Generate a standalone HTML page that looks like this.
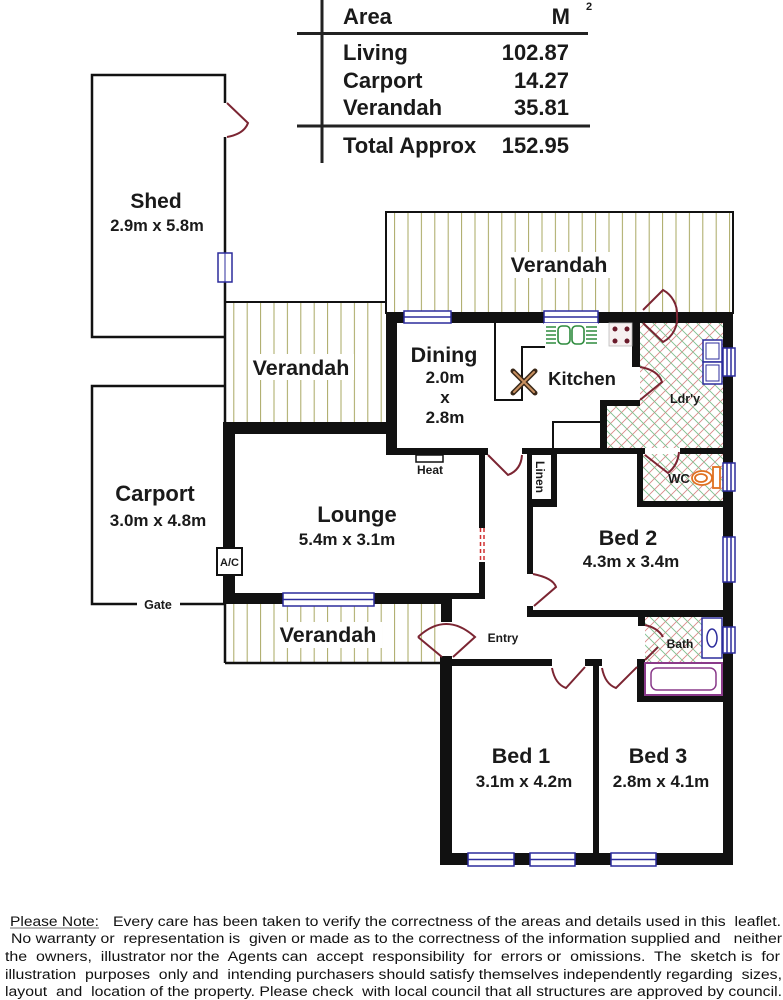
<!DOCTYPE html>
<html><head><meta charset="utf-8"><style>
html,body{margin:0;padding:0;background:#fff;}
svg{display:block;}
.t{font-family:"Liberation Sans",Arial,sans-serif;font-weight:bold;fill:#1a1a1a;}
.n{font-family:"Liberation Sans",Arial,sans-serif;fill:#111;white-space:pre;}
</style></head><body>
<svg width="783" height="1000" viewBox="0 0 783 1000" xmlns="http://www.w3.org/2000/svg">
<defs>
<pattern id="vs" width="13.4" height="20" patternUnits="userSpaceOnUse"><line x1="6" y1="0" x2="6" y2="20" stroke="#a9a862" stroke-width="1"/></pattern>
<pattern id="xh" width="11" height="11" patternUnits="userSpaceOnUse">
<path d="M0,11 L11,0 M-2,2 L2,-2 M9,13 L13,9" stroke="#d98a8a" stroke-width="0.9"/>
<path d="M0,0 L11,11 M-2,9 L2,13 M9,-2 L13,2" stroke="#7fbf8f" stroke-width="0.9"/>
</pattern>
</defs>

<!-- area table -->
<rect x="320.5" y="0" width="3" height="163" fill="#222"/>
<rect x="297" y="32" width="291" height="3" fill="#222"/>
<rect x="297" y="124.5" width="293" height="3" fill="#222"/>
<text class="t" x="343" y="24" font-size="22">Area</text>
<text class="t" x="570" y="24" font-size="22" text-anchor="end">M</text>
<text class="t" x="586" y="10" font-size="11">2</text>
<text class="t" x="343" y="60" font-size="22">Living</text>
<text class="t" x="569" y="60" font-size="22" text-anchor="end">102.87</text>
<text class="t" x="343" y="88" font-size="22">Carport</text>
<text class="t" x="569" y="88" font-size="22" text-anchor="end">14.27</text>
<text class="t" x="343" y="115" font-size="22">Verandah</text>
<text class="t" x="569" y="115" font-size="22" text-anchor="end">35.81</text>
<text class="t" x="343" y="153" font-size="22">Total Approx</text>
<text class="t" x="569" y="153" font-size="22" text-anchor="end">152.95</text>

<!-- verandahs -->
<rect x="386" y="212" width="347" height="101" fill="url(#vs)" stroke="#111" stroke-width="2"/>
<rect x="225" y="302" width="162" height="121" fill="url(#vs)"/>
<rect x="225" y="604" width="216" height="59" fill="url(#vs)"/>
<line x1="225" y1="302" x2="387" y2="302" stroke="#111" stroke-width="2"/>
<line x1="225" y1="663" x2="442" y2="663" stroke="#111" stroke-width="2.5"/>

<!-- shed / carport outlines -->
<path d="M225,103 V75 H92 V337 H225 M225,137 V663" fill="none" stroke="#111" stroke-width="2.5"/>
<path d="M225,386 H92 V604 H137 M180,604 H225" fill="none" stroke="#111" stroke-width="2.5"/>
<rect x="218" y="253" width="14" height="29" fill="#fff" stroke="#2c2c9c" stroke-width="1.5"/>
<line x1="225" y1="253" x2="225" y2="282" stroke="#2c2c9c" stroke-width="1"/>
<path d="M227,103 L248,123 Q244,134 227,137" fill="none" stroke="#7b2532" stroke-width="2"/>

<!-- hatched wet areas -->
<polygon points="640,323 723,323 723,448 607,448 607,406 640,406" fill="url(#xh)"/>
<rect x="643" y="454" width="80" height="47" fill="url(#xh)"/>
<rect x="645" y="617" width="57" height="46" fill="url(#xh)"/>

<!-- walls -->
<g fill="#111">
<rect x="386" y="312" width="347" height="11"/>
<rect x="386" y="312" width="11" height="143"/>
<rect x="223" y="422" width="174" height="12"/>
<rect x="223" y="422" width="12" height="182"/>
<rect x="223" y="593" width="229" height="11"/>
<rect x="452" y="593" width="33" height="6"/>
<rect x="441" y="593" width="11" height="29"/>
<rect x="440" y="656" width="12" height="209"/>
<rect x="440" y="853" width="293" height="12"/>
<rect x="723" y="312" width="10" height="553"/>
<rect x="391" y="448" width="97" height="7"/>
<rect x="479" y="448" width="6" height="151"/>
<rect x="522" y="448" width="123" height="6"/>
<rect x="680" y="448" width="43" height="6"/>
<rect x="527" y="448" width="30" height="59"/>
<rect x="527" y="448" width="6" height="126"/>
<rect x="527" y="606" width="6" height="11"/>
<rect x="527" y="610" width="196" height="7"/>
<rect x="637" y="448" width="6" height="59"/>
<rect x="637" y="501" width="86" height="6"/>
<rect x="638" y="617" width="7" height="9"/>
<rect x="637" y="659" width="8" height="43"/>
<rect x="637" y="695" width="86" height="7"/>
<rect x="440" y="659" width="112" height="7"/>
<rect x="585" y="659" width="17" height="7"/>
<rect x="593" y="659" width="6" height="206"/>
<rect x="632" y="323" width="8" height="44"/>
<rect x="600" y="400" width="40" height="6"/>
<rect x="600" y="400" width="7" height="54"/>
</g>
<!-- linen cupboard inner -->
<rect x="532" y="455" width="19" height="44" fill="#fff"/>
<text class="t" font-size="12" transform="translate(536,477) rotate(90)" text-anchor="middle">Linen</text>

<!-- kitchen bench lines -->
<path d="M495,323 V400 H522 V347 H545" fill="none" stroke="#111" stroke-width="2"/>
<path d="M553,448 V422 H601" fill="none" stroke="#111" stroke-width="2"/>

<!-- lounge sliding door gap -->
<rect x="478" y="528" width="8" height="34" fill="#fff"/>
<line x1="480.5" y1="528" x2="480.5" y2="562" stroke="#d03030" stroke-width="1.5" stroke-dasharray="4 3"/>
<line x1="484" y1="528" x2="484" y2="562" stroke="#d03030" stroke-width="1.5" stroke-dasharray="4 3"/>

<!-- windows -->
<g fill="#fff" stroke="#2c2c9c" stroke-width="1.5">
<rect x="404" y="311" width="47" height="12"/><line x1="404" y1="317" x2="451" y2="317"/>
<rect x="544" y="311" width="54" height="12"/><line x1="544" y1="317" x2="598" y2="317"/>
<rect x="283" y="593" width="91" height="13"/><line x1="283" y1="599.5" x2="374" y2="599.5"/>
<rect x="468" y="853" width="46" height="13"/><line x1="468" y1="859.5" x2="514" y2="859.5"/>
<rect x="530" y="853" width="45" height="13"/><line x1="530" y1="859.5" x2="575" y2="859.5"/>
<rect x="611" y="853" width="45" height="13"/><line x1="611" y1="859.5" x2="656" y2="859.5"/>
<rect x="723" y="348" width="12" height="28"/><line x1="727" y1="348" x2="727" y2="376"/><line x1="731" y1="348" x2="731" y2="376"/>
<rect x="723" y="463" width="12" height="28"/><line x1="727" y1="463" x2="727" y2="491"/><line x1="731" y1="463" x2="731" y2="491"/>
<rect x="723" y="537" width="12" height="45"/><line x1="727" y1="537" x2="727" y2="582"/><line x1="731" y1="537" x2="731" y2="582"/>
<rect x="723" y="627" width="12" height="26"/><line x1="727" y1="627" x2="727" y2="653"/><line x1="731" y1="627" x2="731" y2="653"/>
<!-- laundry tubs -->
<rect x="703" y="340" width="19" height="22"/><rect x="706" y="343" width="13" height="16" stroke-width="1"/>
<rect x="703" y="362" width="19" height="22"/><rect x="706" y="365" width="13" height="16" stroke-width="1"/>
<!-- basin -->
<rect x="702" y="618" width="20" height="40"/>
<ellipse cx="712" cy="638" rx="5" ry="9"/>
</g>

<!-- sink -->
<rect x="544" y="323" width="54" height="23" fill="#fff"/>
<g stroke="#2e8b3e" stroke-width="1.6" fill="none">
<path d="M546,327 H556 M546,331 H556 M546,335 H556 M546,339 H556 M546,343 H556"/>
<rect x="558" y="326" width="12" height="18" rx="4"/>
<rect x="572" y="326" width="12" height="18" rx="4"/>
<path d="M586,327 H597 M586,331 H597 M586,335 H597 M586,339 H597 M586,343 H597"/>
</g>
<!-- stove -->
<rect x="609" y="323" width="23" height="23" fill="#f6f0f0" stroke="#bbb" stroke-width="0.8"/>
<g fill="#6a1a2a"><circle cx="615" cy="329" r="2.5"/><circle cx="627" cy="329" r="2.5"/><circle cx="615" cy="341" r="2.5"/><circle cx="627" cy="341" r="2.5"/></g>
<!-- fan -->
<g stroke-linecap="round">
<line x1="513" y1="371" x2="535" y2="393" stroke="#3a2818" stroke-width="5"/>
<line x1="513" y1="393" x2="535" y2="371" stroke="#3a2818" stroke-width="5"/>
<line x1="514" y1="372" x2="534" y2="392" stroke="#c89060" stroke-width="2"/>
<line x1="514" y1="392" x2="534" y2="372" stroke="#c89060" stroke-width="2"/>
</g>
<!-- toilet -->
<g stroke="#e07020" stroke-width="1.8" fill="#fff">
<rect x="713" y="467" width="7" height="21"/>
<ellipse cx="702" cy="478" rx="10" ry="7"/>
<ellipse cx="701" cy="478" rx="6" ry="4"/>
</g>
<!-- bath tub -->
<rect x="645" y="663" width="77" height="32" fill="#fff" stroke="#8a3a8a" stroke-width="2"/>
<rect x="651" y="668" width="65" height="22" rx="6" fill="#fff" stroke="#8a3a8a" stroke-width="1.5"/>

<!-- heat / AC -->
<rect x="416" y="455" width="27" height="7" fill="#fff" stroke="#111" stroke-width="1.5"/>
<rect x="217" y="548" width="25" height="27" fill="#fff" stroke="#111" stroke-width="2"/>

<!-- doors -->
<g fill="none" stroke="#7b2532" stroke-width="2">
<path d="M643,310 L663,290 A27,27 0 0 1 677,315 A27,27 0 0 1 663,342 L643,323"/>
<path d="M640,367 Q658,370 662,382 L640,400"/>
<path d="M488,455 L508,475 Q521,470 522,455"/>
<path d="M645,455 L668,473 Q678,465 679,452"/>
<path d="M533,574 Q553,578 556,587 L534,606"/>
<path d="M418,637 Q446,611 475,637 L453,657 M418,637 L442,657"/>
<path d="M552,668 Q555,684 566,688 L585,667"/>
<path d="M602,668 Q605,684 616,688 L637,667"/>
<path d="M645,625 Q658,628 663,637 M658,647 L645,660"/>
</g>

<!-- labels -->
<text class="t" x="156" y="208" font-size="21" text-anchor="middle">Shed</text>
<text class="t" x="157" y="231" font-size="16.5" text-anchor="middle">2.9m x 5.8m</text>

<rect x="505" y="252" width="110" height="26" fill="#fff"/>
<text class="t" x="559" y="272" font-size="21.5" text-anchor="middle">Verandah</text>
<rect x="248" y="354" width="106" height="26" fill="#fff"/>
<text class="t" x="301" y="375" font-size="21.5" text-anchor="middle">Verandah</text>
<rect x="276" y="622" width="106" height="26" fill="#fff"/>
<text class="t" x="328" y="642" font-size="21.5" text-anchor="middle">Verandah</text>

<text class="t" x="444" y="362" font-size="21.5" text-anchor="middle">Dining</text>
<text class="t" x="445" y="383" font-size="17" text-anchor="middle">2.0m</text>
<text class="t" x="445" y="403" font-size="17" text-anchor="middle">x</text>
<text class="t" x="445" y="423" font-size="17" text-anchor="middle">2.8m</text>
<text class="t" x="582" y="385" font-size="18.5" text-anchor="middle">Kitchen</text>
<text class="t" x="685" y="403" font-size="12.5" text-anchor="middle">Ldr'y</text>
<text class="t" x="430" y="474" font-size="12" text-anchor="middle">Heat</text>
<text class="t" x="679" y="483" font-size="13" text-anchor="middle">WC</text>

<text class="t" x="155" y="501" font-size="22" text-anchor="middle">Carport</text>
<text class="t" x="158" y="526" font-size="17" text-anchor="middle">3.0m x 4.8m</text>
<text class="t" x="158" y="609" font-size="12.5" text-anchor="middle">Gate</text>
<text class="t" x="229.5" y="566" font-size="11" text-anchor="middle">A/C</text>

<text class="t" x="357" y="522" font-size="22" text-anchor="middle">Lounge</text>
<text class="t" x="347" y="545" font-size="17" text-anchor="middle">5.4m x 3.1m</text>

<text class="t" x="628" y="545" font-size="21.5" text-anchor="middle">Bed 2</text>
<text class="t" x="631" y="567" font-size="17" text-anchor="middle">4.3m x 3.4m</text>

<text class="t" x="503" y="642" font-size="12" text-anchor="middle">Entry</text>
<text class="t" x="680" y="648" font-size="12" text-anchor="middle">Bath</text>

<text class="t" x="521" y="763" font-size="21.5" text-anchor="middle">Bed 1</text>
<text class="t" x="524" y="787" font-size="17" text-anchor="middle">3.1m x 4.2m</text>
<text class="t" x="658" y="763" font-size="21.5" text-anchor="middle">Bed 3</text>
<text class="t" x="661" y="787" font-size="17" text-anchor="middle">2.8m x 4.1m</text>

<!-- note -->
<text class="n" x="10" y="926" font-size="13.5" textLength="89" lengthAdjust="spacingAndGlyphs">Please Note:</text>
<line x1="10" y1="928" x2="99" y2="928" stroke="#444" stroke-width="0.8"/>
<text class="n" x="113" y="926" font-size="13.5" textLength="668" lengthAdjust="spacingAndGlyphs">Every care has been taken to verify the correctness of the areas and details used in this  leaflet.</text>
<text class="n" x="11" y="943" font-size="13.5" textLength="771" lengthAdjust="spacingAndGlyphs">No warranty or  representation is  given or made as to the correctness of the information supplied and   neither</text>
<text class="n" x="5" y="961" font-size="13.5" textLength="775" lengthAdjust="spacingAndGlyphs">the  owners,  illustrator nor the  Agents can  accept  responsibility  for  errors or  omissions.  The  sketch is  for</text>
<text class="n" x="5" y="979" font-size="13.5" textLength="777" lengthAdjust="spacingAndGlyphs">illustration  purposes  only and  intending purchasers should satisfy themselves independently regarding  sizes,</text>
<text class="n" x="5" y="996" font-size="13.5" textLength="777" lengthAdjust="spacingAndGlyphs">layout  and  location of the property. Please check  with local council that all structures are approved by council.</text>
</svg>
</body></html>
